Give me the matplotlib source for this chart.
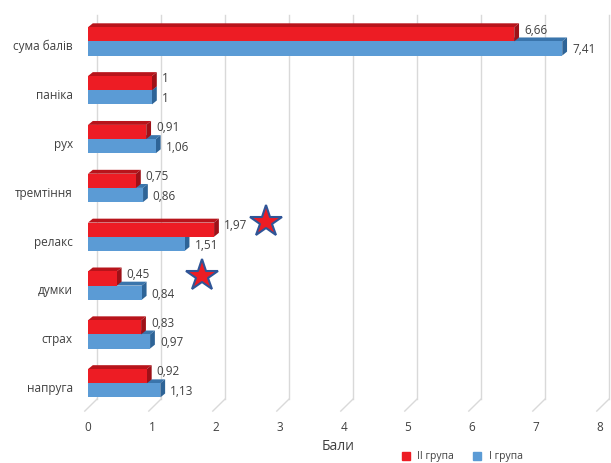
import matplotlib

matplotlib.use("Agg")
import matplotlib.pyplot as plt
from matplotlib.patches import Polygon
from matplotlib.lines import Line2D
from matplotlib.transforms import offset_copy

plt.rcParams["font.family"] = ["Open Sans", "DejaVu Sans"]

# data, bottom to top as drawn
categories = ["напруга", "страх", "думки", "релакс", "тремтіння", "рух", "паніка", "сума балів"]
group2 = [0.92, 0.83, 0.45, 1.97, 0.75, 0.91, 1.00, 6.66]   # II група (red)
group1 = [1.13, 0.97, 0.84, 1.51, 0.86, 1.06, 1.00, 7.41]   # I група (blue)
x_ticks = [0, 1, 2, 3, 4, 5, 6, 7, 8]
star_cats = ["релакс", "думки"]
star_x = [2.78, 1.78]

RED, RED_SIDE, RED_TOP = "#ED1C24", "#9E1118", "#B8141B"
BLUE, BLUE_SIDE, BLUE_TOP = "#5B9BD5", "#2E6497", "#3A75AC"
GRID = "#D9D9D9"
TEXT = "#404040"

H = 0.29              # bar thickness
LIFT = 0.08           # bar pair sits a bit above the category label
DX, DY = 0.075, 0.08  # fake 3d depth
BACK_X = 0.14         # back wall shift (x units)
FLOOR, BACK_FLOOR = -0.49, -0.245
YMIN, YMAX = -0.57, 7.62


def fmt(v):
    return f"{v:g}".replace(".", ",")


def bar3d(ax, y0, v, face, side, top, z):
    y1 = y0 + H
    ax.add_patch(Polygon([(0, y1), (v, y1), (v + DX, y1 + DY), (DX, y1 + DY)],
                         closed=True, fc=top, ec="none", zorder=z))
    ax.add_patch(Polygon([(v, y0), (v, y1), (v + DX, y1 + DY), (v + DX, y0 + DY)],
                         closed=True, fc=side, ec="none", zorder=z))
    ax.barh(y0 + H / 2, v, height=H, color=face, zorder=z + 0.5)


fig = plt.figure(figsize=(6.11, 4.63), dpi=100)
ax = fig.add_axes([88 / 611, 48 / 463, 512 / 611, 400 / 463])
ax.set_xlim(0, 8)
ax.set_ylim(YMIN, YMAX)
for s in ax.spines.values():
    s.set_visible(False)

# back wall grid + floor diagonals
for t in x_ticks:
    ax.plot([t + BACK_X, t + BACK_X], [BACK_FLOOR, YMAX], color=GRID, lw=1, zorder=0, clip_on=False)
    ax.plot([t - 0.05, t + BACK_X], [FLOOR, BACK_FLOOR], color=GRID, lw=1, zorder=0, clip_on=False)

lbl_off = offset_copy(ax.transData, fig, x=5, units="dots")
for i, (r, b) in enumerate(zip(group2, group1)):
    yb = i + LIFT
    bar3d(ax, yb - H, b, BLUE, BLUE_SIDE, BLUE_TOP, 2)
    bar3d(ax, yb, r, RED, RED_SIDE, RED_TOP, 4)
    ax.text(r + DX, yb + H * 0.8, fmt(r), transform=lbl_off,
            ha="left", va="center", fontsize=8.5, color=TEXT, zorder=6)
    ax.text(b + DX, yb - H * 0.6, fmt(b), transform=lbl_off,
            ha="left", va="center", fontsize=8.5, color=TEXT, zorder=6)

star_dy = [0.3, 0.2]
for c, sx, dy in zip(star_cats, star_x, star_dy):
    ax.plot(sx, categories.index(c) + LIFT + dy, marker="*", markersize=24, mfc=RED,
            mec="#2F5597", mew=1.5, zorder=7, clip_on=False)

ax.set_yticks(range(len(categories)))
ax.set_yticklabels(categories)
ax.set_xticks(x_ticks)
ax.set_xticklabels([str(t) for t in x_ticks])
ax.tick_params(length=0, labelsize=8.5, labelcolor=TEXT)
ax.tick_params(axis="y", pad=11)
ax.tick_params(axis="x", pad=4.5)

fig.text(338 / 611, 1 - 446 / 463, "Бали", ha="center", va="center", fontsize=10, color=TEXT)
handles = [Line2D([], [], ls="none", marker="s", markersize=6, color=RED),
           Line2D([], [], ls="none", marker="s", markersize=6, color=BLUE)]
fig.legend(handles, ["II група", "I група"], loc="center", bbox_to_anchor=(459 / 611, 1 - 457 / 463),
           ncol=2, frameon=False, fontsize=7.5, labelcolor=TEXT, handletextpad=0.1, columnspacing=1.2)

fig.savefig("out.png", dpi=100)
